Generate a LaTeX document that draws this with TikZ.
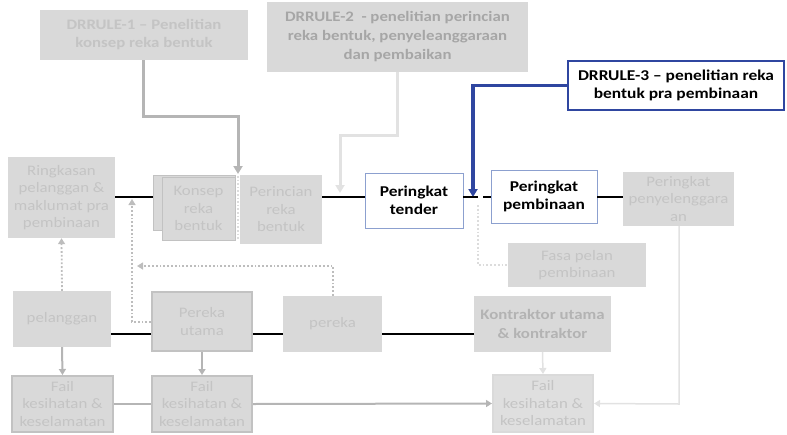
\documentclass[tikz,border=0pt]{standalone}
\usepackage{fontspec}
\setmainfont{Carlito}[FakeStretch=1.16]
\usetikzlibrary{arrows.meta}
\definecolor{boxfill}{HTML}{D9D9D9}
\definecolor{boxtxt}{HTML}{C4C4C4}
\definecolor{darktxt}{HTML}{A6A6A6}
\definecolor{midtxt}{HTML}{B3B3B3}
\definecolor{boxline}{HTML}{C2C2C2}
\definecolor{bluec}{HTML}{2F46A0}
\definecolor{bluebox}{HTML}{8CA0CF}
\definecolor{arrgray}{HTML}{B5B5B5}
\definecolor{arrlight}{HTML}{E2E2E2}
\definecolor{dotgray}{HTML}{BDBDBD}
\definecolor{dotlight}{HTML}{DCDCDC}
\tikzset{
  gbox/.style={fill=boxfill, draw=none, text=boxtxt, align=center, inner sep=0pt,
    font=\fontsize{14.5}{17.5}\selectfont},
  framed/.style={gbox, draw=boxline, line width=2pt},
  wbox/.style={fill=white, draw=bluebox, line width=0.8pt, align=center, inner sep=0pt,
    font=\fontsize{15}{18.5}\selectfont\bfseries},
  blk/.style={line width=2.6pt, black},
  tip/.style={-{Triangle[length=8pt,width=9pt]}},
  gtip/.style={-{Triangle[length=6pt,width=7pt]}},
  dotl/.style={dotted, line width=1.8pt, dotgray},
}
\begin{document}
\begin{tikzpicture}[x=1pt,y=-1pt]
\useasboundingbox (0,0) rectangle (787,434);
% top rule boxes
\node[gbox, minimum width=208pt, minimum height=50pt, font=\fontsize{14.5}{18}\selectfont\bfseries] (r1) at (144,35) {DRRULE-1 -- Penelitian\\konsep reka bentuk};
\node[gbox, minimum width=261pt, minimum height=70pt, text=darktxt, font=\fontsize{14.5}{19}\selectfont\bfseries] (r2) at (397.5,37) {DRRULE-2 \ - penelitian perincian\\reka bentuk, penyeleanggaraan\\dan pembaikan};
\node[wbox, draw=bluec, line width=2pt, minimum width=216pt, minimum height=49pt] (r3) at (676,85.5) {DRRULE-3 -- penelitian reka\\bentuk pra pembinaan};
% row 1
\node[gbox, minimum width=107pt, minimum height=81pt] (ring) at (61.5,197.5) {Ringkasan\\pelanggan \&\\maklumat pra\\pembinaan};
\node[gbox, draw=boxline, line width=0.6pt, minimum width=82pt, minimum height=55pt] (konb) at (194,202.5) {};
\node[gbox, draw=boxline, line width=0.6pt, minimum width=73pt, minimum height=63pt] (konsep) at (198.5,208.5) {Konsep\\reka\\bentuk};
\node[gbox, minimum width=82pt, minimum height=69pt] (perinc) at (281,209.5) {Perincian\\reka\\bentuk};
\node[wbox, minimum width=98pt, minimum height=55pt] (tender) at (414,200.5) {Peringkat\\tender};
\node[wbox, minimum width=106pt, minimum height=53pt] (pemb) at (544,196.5) {Peringkat\\pembinaan};
\node[gbox, minimum width=111pt, minimum height=54pt] (penyel) at (678.5,199) {Peringkat\\penyelenggara\\an};
\node[gbox, minimum width=138pt, minimum height=44pt] (fasa) at (577,265) {Fasa pelan\\pembinaan};
% row 2
\node[gbox, minimum width=98pt, minimum height=56pt] (pel) at (62,319) {pelanggan};
\node[framed, minimum width=100pt, minimum height=59pt] (pu) at (202,321.5) {Pereka\\utama};
\node[gbox, minimum width=99pt, minimum height=56pt] (pereka) at (332.5,324) {pereka};
\node[gbox, minimum width=137pt, minimum height=56pt, text=midtxt, font=\fontsize{14.5}{18.5}\selectfont\bfseries] (kon) at (542.5,324) {Kontraktor utama\\\& kontraktor};
% row 3
\node[framed, minimum width=101pt, minimum height=56pt] (f1) at (62.5,404) {Fail\\kesihatan \&\\keselamatan};
\node[framed, minimum width=100pt, minimum height=56pt] (f2) at (202,404) {Fail\\kesihatan \&\\keselamatan};
\node[framed, draw=boxline!60, fill=boxfill!85, minimum width=100pt, minimum height=57pt] (f3) at (543,403.5) {Fail\\kesihatan \&\\keselamatan};
% coordinates
\coordinate (k1) at (238,174);
\coordinate (k2) at (340,193);
\coordinate (bt) at (473,197);
\coordinate (row1) at (0,197);
\coordinate (row2) at (0,334);
% rule arrows
\draw[arrgray, line width=3pt, tip] (r1.south -| 143,0) -- (143,116) -| (k1);
\draw[arrlight, line width=3pt, tip] (r2.south) -- (397.5,135) -| (k2);
\draw[bluec, line width=3.5pt, tip] (r3.west) -| (bt);
% black line row 1
\draw[blk] (ring.east |- row1) -- (konb.west |- row1);
\draw[blk] (perinc.east |- row1) -- (tender.west |- row1);
\draw[blk] (tender.east |- row1) -- (478,197);
\draw[blk] (483,197) -- (pemb.west |- row1);
\draw[blk] (pemb.east |- row1) -- (penyel.west |- row1);
% dotted between konsep and perincian
\draw[dotlight, dotted, line width=1.6pt] (238,176) -- (238,240);
% row 2 black line
\draw[blk] (pel.east |- row2) -- (pu.west |- row2);
\draw[blk] (pu.east |- row2) -- (pereka.west |- row2);
\draw[blk] (pereka.east |- row2) -- (kon.west |- row2);
% dotted connectors
\draw[dotl, gtip] (pel.north) -- (ring.south);
\draw[dotl, gtip] (pu.west |- 0,322) -- (132,322) -- (132,199);
\draw[dotl, gtip] (pereka.north -| 333,0) -- (333,266) -- (137,266);
\draw[dotlight, dotted, line width=1.8pt] (478,205) |- (fasa.west);
% lower arrows
\draw[arrgray, line width=2pt, gtip] (pel.south) -- (f1.north);
\draw[arrgray, line width=2pt, gtip] (pu.south) -- (f2.north);
\draw[arrlight, line width=1.5pt, gtip] (kon.south) -- (f3.north);
\draw[arrgray, line width=2pt] (f1.east) -- (f2.west);
\draw[arrgray, line width=2pt, gtip] (f2.east) -- (f3.west);
\draw[arrlight, line width=1.5pt, gtip] (penyel.south -| 679,0) -- (679,404) -- (f3.east);
\end{tikzpicture}
\end{document}
